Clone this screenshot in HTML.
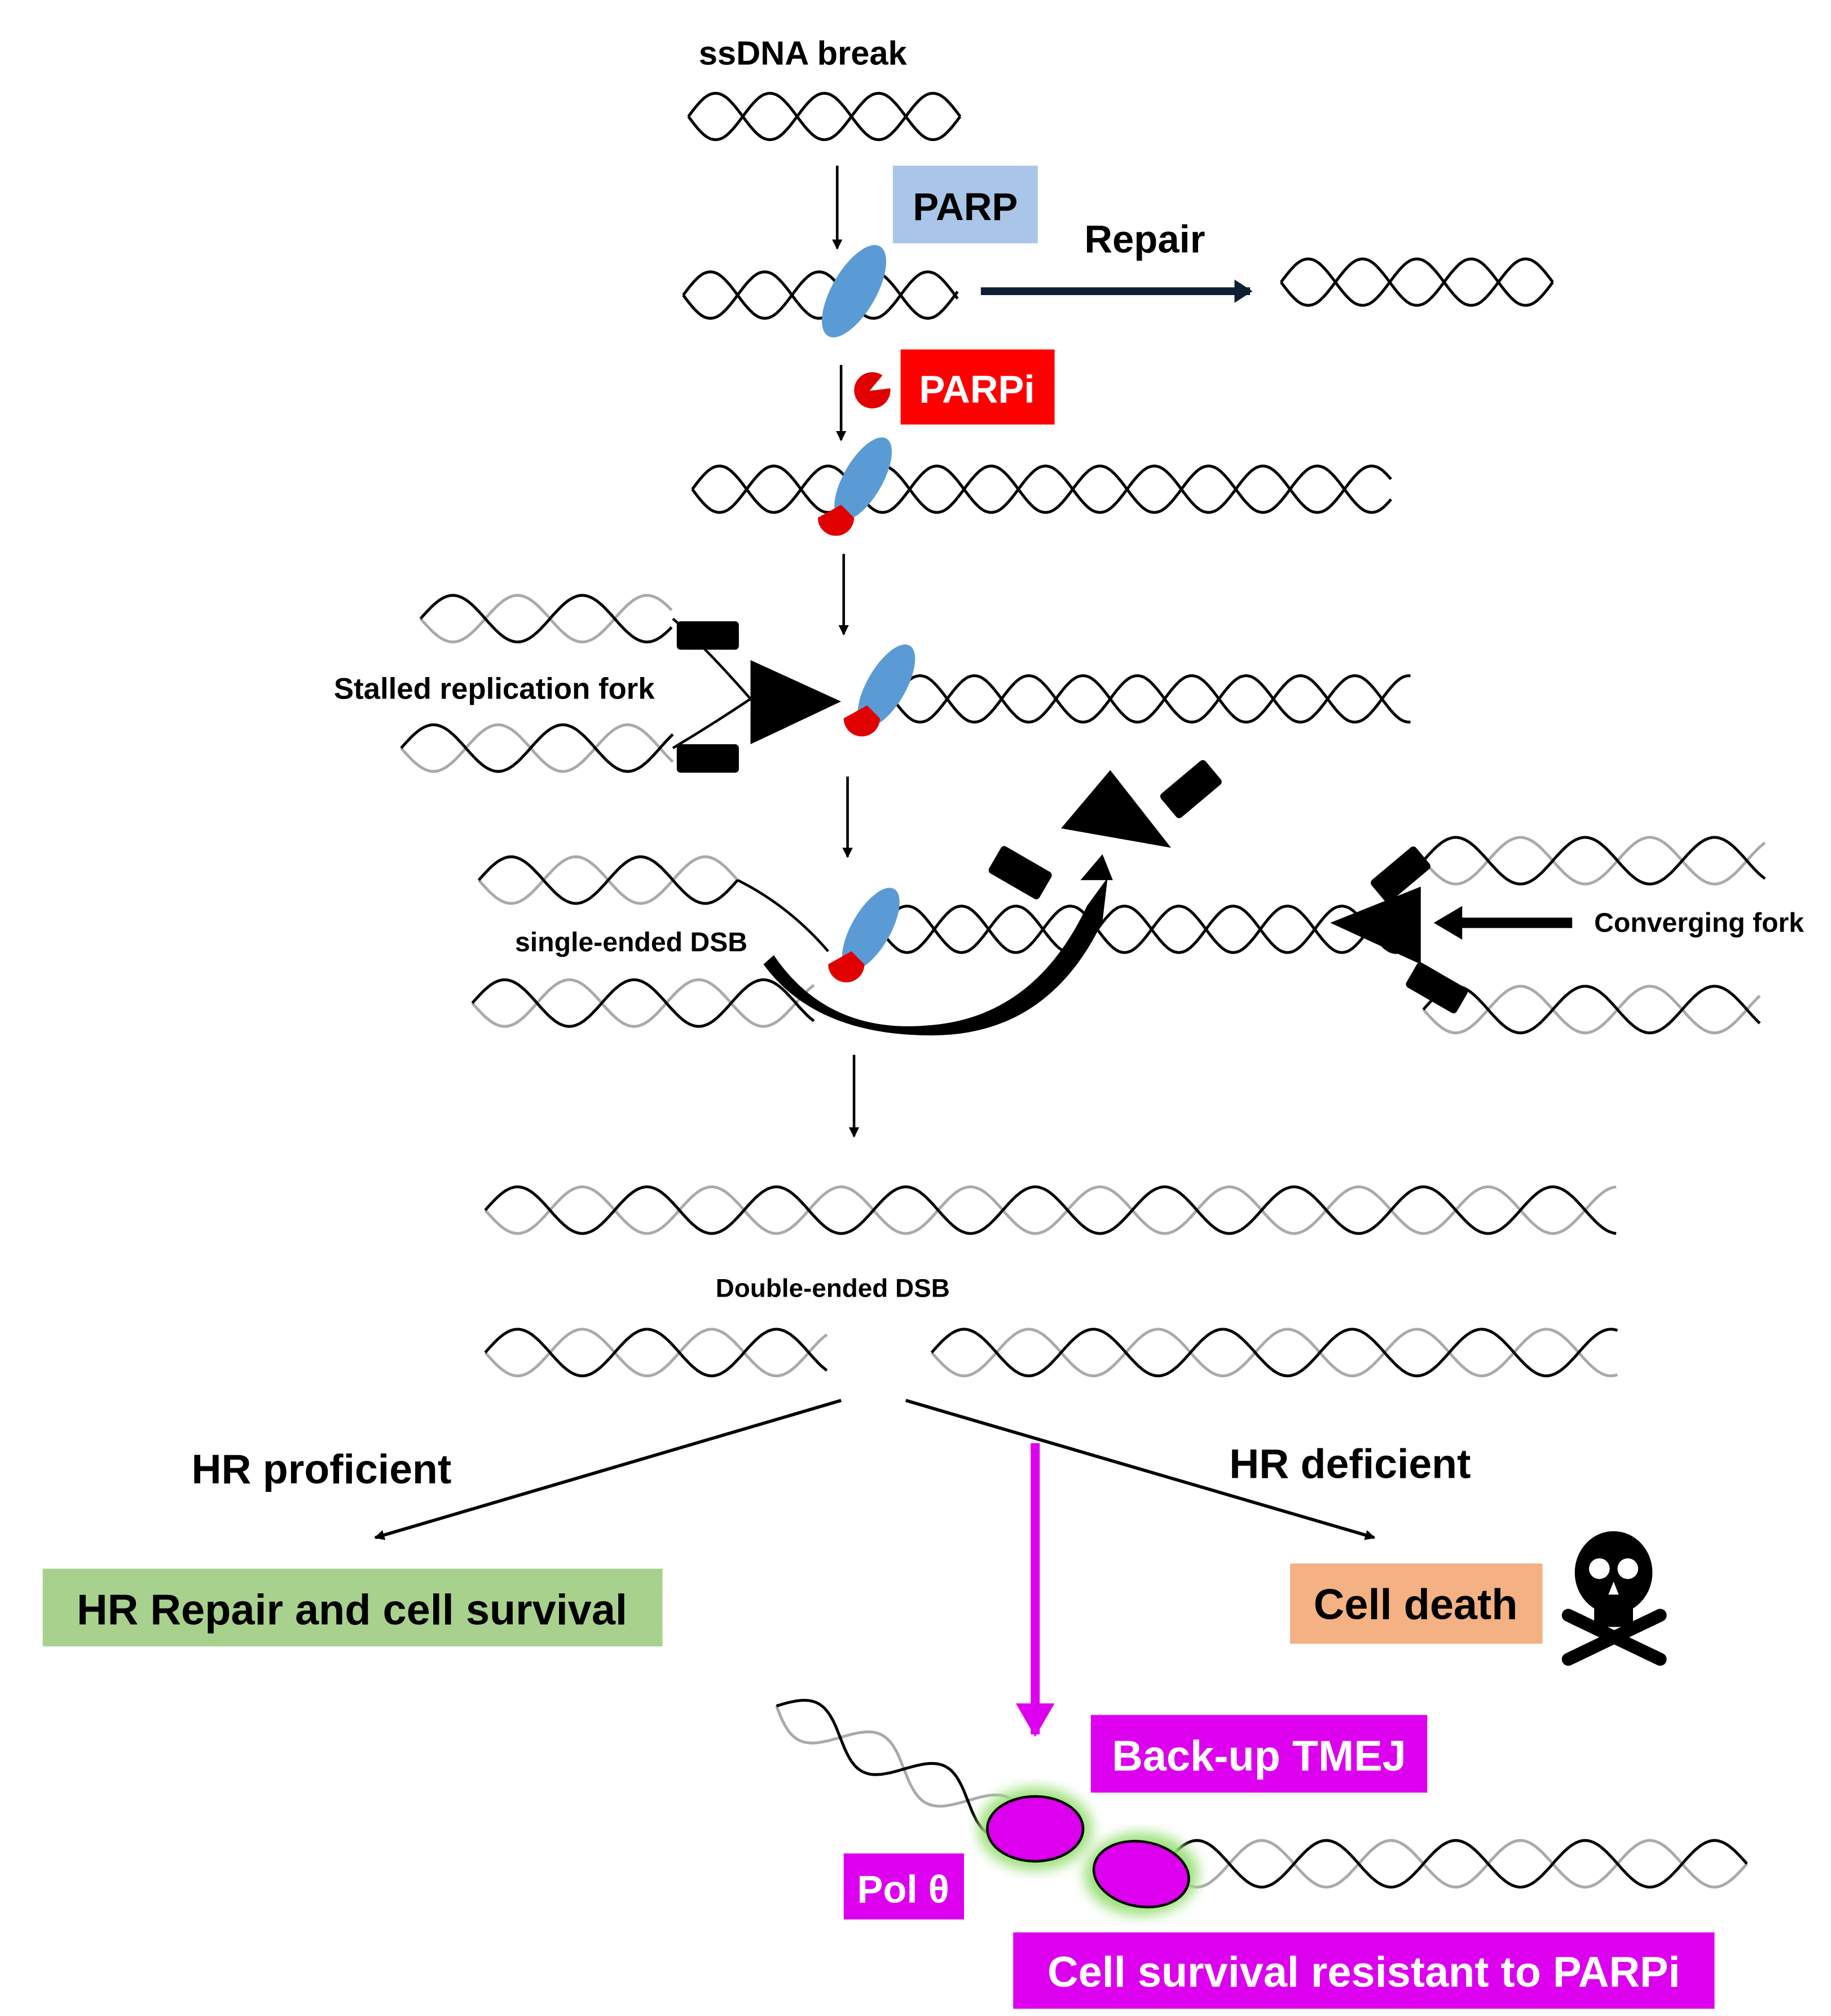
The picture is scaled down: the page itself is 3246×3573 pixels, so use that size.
<!DOCTYPE html>
<html><head><meta charset="utf-8"><style>
html,body{margin:0;padding:0;background:#fff;}
svg{display:block;}
text{font-family:"Liberation Sans",sans-serif;font-weight:bold;}
</style></head><body>
<svg id="s" width="3246" height="3573" viewBox="0 0 1415 1557.6" xmlns="http://www.w3.org/2000/svg">
<defs>
<marker id="ah" markerWidth="8" markerHeight="8" refX="7" refY="4" orient="auto" markerUnits="userSpaceOnUse"><path d="M0,0 L8,4 L0,8 z" fill="#000"/></marker>
<marker id="ahm" markerWidth="26" markerHeight="30" refX="24" refY="15" orient="auto" markerUnits="userSpaceOnUse"><path d="M0,0 L26,15 L0,30 z" fill="#dd00ee"/></marker>
<marker id="ahb" markerWidth="14" markerHeight="18" refX="12" refY="9" orient="auto" markerUnits="userSpaceOnUse"><path d="M0,0 L14,9 L0,18 z" fill="#0f1f33"/></marker>
<filter id="glow"><feGaussianBlur stdDeviation="5"/></filter>
</defs>
<g id="dna"></g>

<text x="540" y="50" font-size="26">ssDNA break</text>
<line x1="647" y1="128" x2="647" y2="192" stroke="#000" stroke-width="2" marker-end="url(#ah)"/>
<rect x="690" y="128" width="112" height="60" fill="#a9c6e8"/>
<text x="746" y="170" font-size="30" text-anchor="middle">PARP</text>
<ellipse cx="660" cy="225" rx="17" ry="40" transform="rotate(30 660 225)" fill="#5b9bd5"/>
<line x1="758" y1="225" x2="966" y2="225" stroke="#0f1f33" stroke-width="6" marker-end="url(#ahb)"/>
<text x="838" y="195" font-size="30">Repair</text>

<line x1="650" y1="282" x2="650" y2="340" stroke="#000" stroke-width="2" marker-end="url(#ah)"/>
<path d="M672,302 L688,300 A14,14 0 1 1 682,290 z" fill="#e00000"/>
<rect x="696" y="270" width="119" height="58" fill="#ff0000"/>
<text x="755" y="311" font-size="30" text-anchor="middle" fill="#fff">PARPi</text>
<ellipse cx="667" cy="370" rx="15" ry="36" transform="rotate(30 667 370)" fill="#5b9bd5"/>
<path d="M632,400 A14,14 0 0 0 660,400 L650,390 z" fill="#e00000"/>

<line x1="652" y1="428" x2="652" y2="490" stroke="#000" stroke-width="2" marker-end="url(#ah)"/>
<rect x="523" y="480" width="48" height="22" rx="3" fill="#000"/>
<rect x="523" y="575" width="48" height="22" rx="3" fill="#000"/>
<path d="M520,478 Q545,500 580,540 M520,578 Q550,560 580,540" stroke="#000" stroke-width="2" fill="none"/>
<path d="M580,510 L650,542 L580,575 z" fill="#000"/>
<text x="258" y="540" font-size="23">Stalled replication fork</text>
<ellipse cx="685" cy="530" rx="15" ry="36" transform="rotate(30 685 530)" fill="#5b9bd5"/>
<path d="M652,555 A14,14 0 0 0 680,555 L670,545 z" fill="#e00000"/>

<line x1="655" y1="600" x2="655" y2="662" stroke="#000" stroke-width="2" marker-end="url(#ah)"/>
<text x="398" y="735" font-size="21">single-ended DSB</text>
<ellipse cx="673" cy="718" rx="15" ry="36" transform="rotate(30 673 718)" fill="#5b9bd5"/>
<path d="M640,745 A14,14 0 0 0 668,745 L658,735 z" fill="#e00000"/>
<path d="M570,680 Q610,700 640,735" stroke="#000" stroke-width="2" fill="none"/>
<path d="M598,738 Q640,800 720,792 Q800,785 840,700 L856,678 L852,712 Q810,800 720,800 Q630,800 590,745 z" fill="#000"/>
<path d="M835,680 L860,680 L852,660 z" fill="#000"/>
<path d="M820,640 L858,595 L905,655 z" fill="#000"/>
<rect x="766" y="662" width="45" height="24" rx="3" transform="rotate(30 788 674)" fill="#000"/>
<rect x="898" y="598" width="45" height="24" rx="3" transform="rotate(-40 920 610)" fill="#000"/>

<path d="M1028,713 L1098,685 L1098,745 z" fill="#000"/>
<rect x="1060" y="665" width="45" height="22" rx="3" transform="rotate(-40 1082 676)" fill="#000"/>
<rect x="1088" y="752" width="45" height="22" rx="3" transform="rotate(30 1110 763)" fill="#000"/>
<line x1="1215" y1="713" x2="1125" y2="713" stroke="#000" stroke-width="8"/>
<path d="M1108,713 L1130,700 L1130,726 z" fill="#000"/>
<text x="1232" y="720" font-size="21">Converging fork</text>

<line x1="660" y1="815" x2="660" y2="878" stroke="#000" stroke-width="2" marker-end="url(#ah)"/>
<text x="553" y="1002" font-size="20">Double-ended DSB</text>

<line x1="650" y1="1082" x2="290" y2="1188" stroke="#000" stroke-width="2.5" marker-end="url(#ah)"/>
<line x1="700" y1="1082" x2="1062" y2="1188" stroke="#000" stroke-width="2.5" marker-end="url(#ah)"/>
<text x="148" y="1146" font-size="32">HR proficient</text>
<text x="950" y="1142" font-size="32">HR deficient</text>
<rect x="33" y="1212" width="479" height="60" fill="#a9d18e"/>
<text x="272" y="1255" font-size="33" text-anchor="middle">HR Repair and cell survival</text>
<rect x="997" y="1208" width="195" height="62" fill="#f4b183"/>
<text x="1094" y="1251" font-size="33" text-anchor="middle">Cell death</text>
<g>
<line x1="1212" y1="1248" x2="1283" y2="1282" stroke="#000" stroke-width="10" stroke-linecap="round"/>
<line x1="1283" y1="1248" x2="1212" y2="1282" stroke="#000" stroke-width="10" stroke-linecap="round"/>
<ellipse cx="1247" cy="1215" rx="30" ry="32" fill="#000"/>
<rect x="1232" y="1235" width="30" height="22" fill="#000"/>
<circle cx="1236" cy="1212" r="8" fill="#fff"/><circle cx="1258" cy="1212" r="8" fill="#fff"/>
<path d="M1247,1222 L1243,1232 L1251,1232 z" fill="#fff"/>
</g>

<line x1="800" y1="1115" x2="800" y2="1340" stroke="#dd00ee" stroke-width="7" marker-end="url(#ahm)"/>
<rect x="843" y="1325" width="260" height="60" fill="#dd00ee"/>
<text x="973" y="1368" font-size="33" text-anchor="middle" fill="#fff">Back-up TMEJ</text>
<rect x="652" y="1432" width="93" height="51" fill="#dd00ee"/>
<text x="698" y="1470" font-size="30" text-anchor="middle" fill="#fff" style="font-family:'Liberation Sans','DejaVu Sans',sans-serif">Pol θ</text>
<rect x="783" y="1493" width="542" height="59" fill="#dd00ee"/>
<text x="1054" y="1535" font-size="33" text-anchor="middle" fill="#fff">Cell survival resistant to PARPi</text>
<ellipse cx="800" cy="1413" rx="44" ry="32" fill="#9be07a" filter="url(#glow)"/>
<ellipse cx="882" cy="1448" rx="44" ry="32" fill="#9be07a" filter="url(#glow)"/>
<ellipse cx="800" cy="1413" rx="37" ry="25" fill="#dd00ee" stroke="#000" stroke-width="2"/>
<ellipse cx="882" cy="1448" rx="37" ry="25" fill="#dd00ee" stroke="#000" stroke-width="2" transform="rotate(10 882 1448)"/>
</svg>
<script>
var g=document.getElementById('dna');
function helix(x1,y1,x2,y2,amp,per,c1,c2,w){
  w=w||2.2;
  var dx=x2-x1,dy=y2-y1,L=Math.sqrt(dx*dx+dy*dy),ux=dx/L,uy=dy/L,nx=-uy,ny=ux;
  [[0,c1],[Math.PI,c2]].forEach(function(p){
    var d='';
    for(var t=0;t<=L;t+=2){
      var o=amp*Math.sin(2*Math.PI*t/per+p[0]);
      var x=x1+ux*t+nx*o,y=y1+uy*t+ny*o;
      d+=(t?'L':'M')+x.toFixed(1)+','+y.toFixed(1);
    }
    var e=document.createElementNS('http://www.w3.org/2000/svg','path');
    e.setAttribute('d',d);e.setAttribute('fill','none');e.setAttribute('stroke',p[1]);e.setAttribute('stroke-width',w);
    g.appendChild(e);
  });
}
var K='#000',G='#aaa';
helix(532,90,742,90,18,84,K,K);
helix(528,228,740,228,18,84,K,K);
helix(990,218,1200,218,18,84,K,K);
helix(535,378,1075,378,18,84,K,K);
helix(325,478,520,478,18,100,G,K);
helix(310,578,520,578,18,100,G,K);
helix(690,540,1090,540,18,84,K,K);
helix(370,680,570,680,18,100,G,K);
helix(365,775,630,775,18,100,G,K);
helix(680,718,1090,718,18,84,K,K);
helix(1100,665,1365,665,18,100,G,K);
helix(1100,780,1360,780,18,100,G,K);
helix(375,935,1250,935,18,100,G,K);
helix(375,1045,640,1045,18,100,G,K);
helix(720,1045,1250,1045,18,100,G,K);
helix(600,1318,790,1412,16,110,G,K);
helix(900,1440,1350,1440,18,100,G,K);
</script>
</body></html>
